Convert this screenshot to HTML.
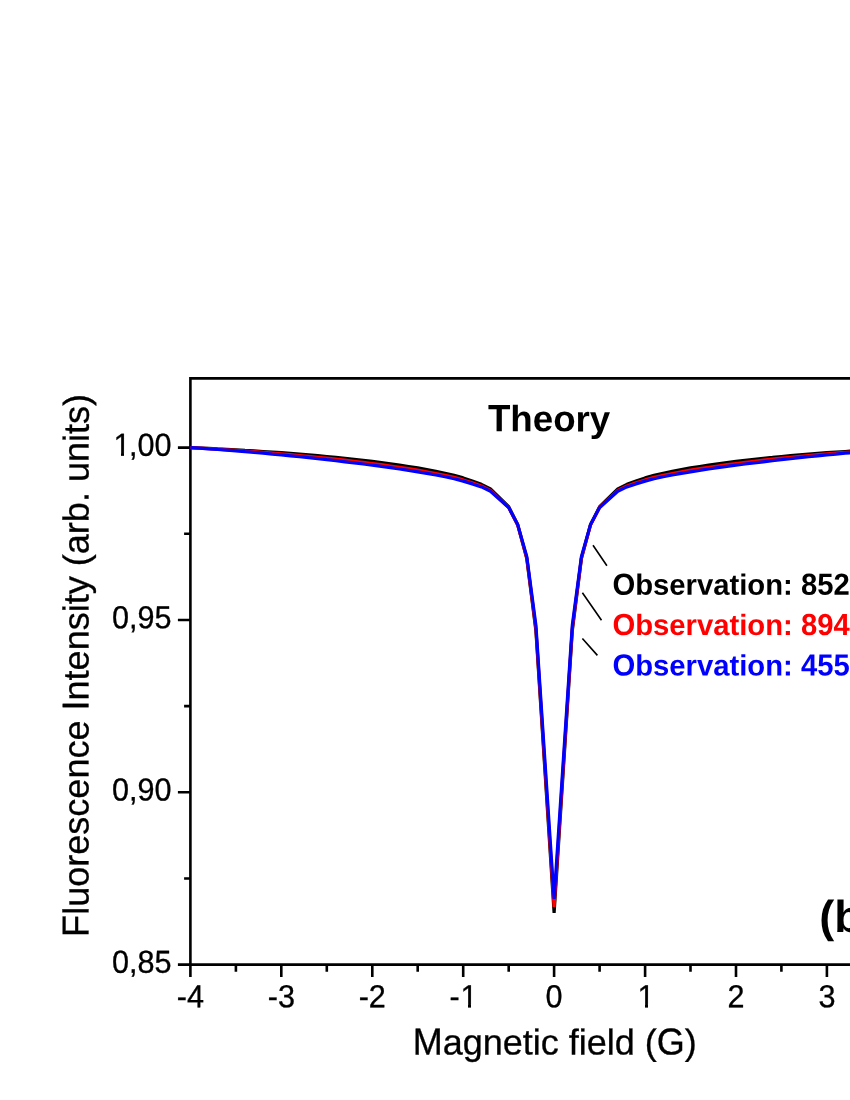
<!DOCTYPE html>
<html><head><meta charset="utf-8"><title>Chart</title>
<style>
html,body{margin:0;padding:0;background:#fff;}
body{width:850px;height:1100px;overflow:hidden;}
svg{display:block;will-change:transform;text-rendering:geometricPrecision;font-family:"Liberation Sans",sans-serif;}
</style></head><body>
<svg width="850" height="1100" viewBox="0 0 850 1100">
<rect width="850" height="1100" fill="#fff" stroke="none"/>
<path d="M190.4,964.6 V378.4 H860" fill="none" stroke="#000" stroke-width="2.6" stroke-linejoin="miter"/>
<path d="M189.1,964.6 H860" fill="none" stroke="#000" stroke-width="2.6"/>
<path d="M190.4,964.6 v12.5 M235.9,964.6 v7.2 M281.3,964.6 v12.5 M326.8,964.6 v7.2 M372.3,964.6 v12.5 M417.7,964.6 v7.2 M463.2,964.6 v12.5 M508.7,964.6 v7.2 M554.1,964.6 v12.5 M599.6,964.6 v7.2 M645.1,964.6 v12.5 M690.5,964.6 v7.2 M736.0,964.6 v12.5 M781.4,964.6 v7.2 M826.9,964.6 v12.5 M872.4,964.6 v7.2 M917.8,964.6 v12.5 M190.4,447.6 h-12.5 M190.4,533.8 h-6.3 M190.4,620.0 h-12.5 M190.4,706.1 h-6.3 M190.4,792.3 h-12.5 M190.4,878.5 h-6.3 M190.4,964.6 h-12.5" fill="none" stroke="#000" stroke-width="2.6"/>
<polyline points="190.4,447.6 199.5,448.0 208.6,448.4 217.7,448.9 226.8,449.3 235.9,449.8 245.0,450.4 254.1,450.9 263.1,451.5 272.2,452.1 281.3,452.7 290.4,453.4 299.5,454.1 308.6,454.9 317.7,455.7 326.8,456.5 335.9,457.4 345.0,458.3 354.1,459.3 363.2,460.3 372.3,461.4 381.4,462.6 390.4,463.8 399.5,465.1 408.6,466.5 417.7,467.9 426.8,469.5 435.9,471.3 445.0,473.2 454.1,475.4 463.2,477.9 472.3,481.0 481.4,484.3 490.5,489.0 508.7,506.7 517.7,524.7 526.8,558.7 535.9,630.7 554.1,912.8 572.3,630.7 581.4,558.7 590.5,524.7 599.6,506.7 617.8,489.0 626.9,484.3 636.0,481.0 645.1,477.9 654.1,475.4 663.2,473.2 672.3,471.3 681.4,469.5 690.5,467.9 699.6,466.5 708.7,465.1 717.8,463.8 726.9,462.6 736.0,461.4 745.1,460.3 754.2,459.3 763.3,458.3 772.4,457.4 781.4,456.5 790.5,455.7 799.6,454.9 808.7,454.1 817.8,453.4 826.9,452.7 836.0,452.1 845.1,451.5 854.2,450.9 863.3,450.4 872.4,449.8 881.5,449.3 890.6,448.9 899.7,448.4 908.7,448.0 917.8,447.6" fill="none" stroke="#000" stroke-width="3.2" stroke-linejoin="bevel"/>
<polyline points="190.4,447.6 199.5,448.1 208.6,448.6 217.7,449.2 226.8,449.8 235.9,450.4 245.0,451.0 254.1,451.7 263.1,452.4 272.2,453.1 281.3,453.9 290.4,454.7 299.5,455.5 308.6,456.4 317.7,457.3 326.8,458.2 335.9,459.2 345.0,460.2 354.1,461.3 363.2,462.4 372.3,463.5 381.4,464.7 390.4,466.0 399.5,467.3 408.6,468.7 417.7,470.2 426.8,471.8 435.9,473.5 445.0,475.3 454.1,477.4 463.2,479.9 472.3,482.8 481.4,485.9 490.5,490.4 508.7,507.5 517.7,525.1 526.8,558.1 535.9,628.5 554.1,906.8 572.3,628.5 581.4,558.1 590.5,525.1 599.6,507.5 617.8,490.4 626.9,485.9 636.0,482.8 645.1,479.9 654.1,477.4 663.2,475.3 672.3,473.5 681.4,471.8 690.5,470.2 699.6,468.7 708.7,467.3 717.8,466.0 726.9,464.7 736.0,463.5 745.1,462.4 754.2,461.3 763.3,460.2 772.4,459.2 781.4,458.2 790.5,457.3 799.6,456.4 808.7,455.5 817.8,454.7 826.9,453.9 836.0,453.1 845.1,452.4 854.2,451.7 863.3,451.0 872.4,450.4 881.5,449.8 890.6,449.2 899.7,448.6 908.7,448.1 917.8,447.6" fill="none" stroke="#f00" stroke-width="3.2" stroke-linejoin="bevel"/>
<polyline points="190.4,447.6 199.5,448.2 208.6,448.9 217.7,449.5 226.8,450.2 235.9,450.9 245.0,451.7 254.1,452.4 263.1,453.2 272.2,454.1 281.3,454.9 290.4,455.8 299.5,456.7 308.6,457.7 317.7,458.6 326.8,459.7 335.9,460.7 345.0,461.8 354.1,462.9 363.2,464.0 372.3,465.2 381.4,466.4 390.4,467.7 399.5,469.0 408.6,470.4 417.7,471.8 426.8,473.4 435.9,475.0 445.0,476.8 454.1,478.8 463.2,481.1 472.3,483.9 481.4,486.9 490.5,491.2 508.7,507.6 517.7,524.6 526.8,556.6 535.9,625.1 554.1,898.9 572.3,625.1 581.4,556.6 590.5,524.6 599.6,507.6 617.8,491.2 626.9,486.9 636.0,483.9 645.1,481.1 654.1,478.8 663.2,476.8 672.3,475.0 681.4,473.4 690.5,471.8 699.6,470.4 708.7,469.0 717.8,467.7 726.9,466.4 736.0,465.2 745.1,464.0 754.2,462.9 763.3,461.8 772.4,460.7 781.4,459.7 790.5,458.6 799.6,457.7 808.7,456.7 817.8,455.8 826.9,454.9 836.0,454.1 845.1,453.2 854.2,452.4 863.3,451.7 872.4,450.9 881.5,450.2 890.6,449.5 899.7,448.9 908.7,448.2 917.8,447.6" fill="none" stroke="#00f" stroke-width="3.2" stroke-linejoin="bevel"/>
<path d="M593,545.2 L606.9,565.7 M582.4,592.7 L601.5,620.2 M582.4,638.5 L597.4,655.4" stroke="#000" stroke-width="1.6" fill="none"/>
<g stroke="#000" stroke-width="0.3">
<text transform="translate(112.04,455.80) rotate(0.03) scale(1,1.04)" x="1.41 17.02 25.52 42.54" font-size="30.6">1,00</text><rect x="113.00" y="453" width="8" height="4" fill="#fff" stroke="none"/><rect x="124.00" y="453" width="7" height="4" fill="#fff" stroke="none"/>
<text transform="translate(112.04,628.15) rotate(0.03) scale(1,1.04)" x="0.00 17.02 25.52 42.54" font-size="30.6">0,95</text>
<text transform="translate(112.04,800.50) rotate(0.03) scale(1,1.04)" x="0.00 17.02 25.52 42.54" font-size="30.6">0,90</text>
<text transform="translate(112.04,972.85) rotate(0.03) scale(1,1.04)" x="0.00 17.02 25.52 42.54" font-size="30.6">0,85</text>
<text transform="translate(176.80,1007.30) rotate(0.03) scale(1,1.04)" x="0.00 10.19" font-size="30.6">-4</text>
<text transform="translate(267.73,1007.30) rotate(0.03) scale(1,1.04)" x="0.00 10.19" font-size="30.6">-3</text>
<text transform="translate(358.66,1007.30) rotate(0.03) scale(1,1.04)" x="0.00 10.19" font-size="30.6">-2</text>
<text transform="translate(449.59,1007.30) rotate(0.03) scale(1,1.04)" x="0.00 10.87" font-size="30.6">-1</text><rect x="460.00" y="1004" width="8" height="5" fill="#fff" stroke="none"/><rect x="471.00" y="1004" width="7" height="5" fill="#fff" stroke="none"/>
<text transform="translate(545.61,1007.30) rotate(0.03) scale(1,1.04)" x="0.00" font-size="30.6">0</text>
<text transform="translate(636.54,1007.30) rotate(0.03) scale(1,1.04)" x="0.91" font-size="30.6">1</text><rect x="637.00" y="1004" width="8" height="5" fill="#fff" stroke="none"/><rect x="648.00" y="1004" width="7" height="5" fill="#fff" stroke="none"/>
<text transform="translate(727.47,1007.30) rotate(0.03) scale(1,1.04)" x="0.00" font-size="30.6">2</text>
<text transform="translate(818.40,1007.30) rotate(0.03) scale(1,1.04)" x="0.00" font-size="30.6">3</text>
<text transform="translate(412.65,1054.5) rotate(0.03) scale(1,1.04)" font-size="36">M</text><text transform="translate(442.64,1054.5) rotate(0.03)" font-size="36">agnetic field (</text><text transform="translate(656.76,1054.5) rotate(0.03) scale(1,1.04)" font-size="36">G</text><text transform="translate(684.76,1054.5) rotate(0.03)" font-size="36">)</text>
<g transform="translate(88.5,665.4) rotate(-90)"><text transform="translate(-271.49,0) rotate(0.03) scale(1,1.04)" font-size="36.05">F</text><text transform="translate(-249.47,0) rotate(0.03)" font-size="36.05">luorescence</text><text transform="translate(-45.07,0) rotate(0.03) scale(1,1.04)" font-size="36.05">I</text><text transform="translate(-35.06,0) rotate(0.03)" font-size="36.05">ntensity (arb. units)</text></g>
</g>
<text transform="translate(487.90,431.35) rotate(0.03) scale(1,1.04)" font-size="36.7" font-weight="bold">T</text><text transform="translate(510.32,431.35) rotate(0.03)" font-size="36.7" font-weight="bold">heory</text>
<text transform="translate(612.40,594.65) rotate(0.03) scale(1,1.04)" font-size="29.25" font-weight="bold" fill="#000">O</text><text transform="translate(635.15,594.65) rotate(0.03)" font-size="29.25" font-weight="bold" fill="#000">bservation:</text><text transform="translate(800.94,594.65) rotate(0.03) scale(1,1.04)" font-size="29.25" font-weight="bold" fill="#000">852</text><text transform="translate(857.87,594.65) rotate(0.03)" font-size="29.25" font-weight="bold" fill="#000">nm</text>
<text transform="translate(612.40,634.9) rotate(0.03) scale(1,1.04)" font-size="29.25" font-weight="bold" fill="#f00">O</text><text transform="translate(635.15,634.9) rotate(0.03)" font-size="29.25" font-weight="bold" fill="#f00">bservation:</text><text transform="translate(800.94,634.9) rotate(0.03) scale(1,1.04)" font-size="29.25" font-weight="bold" fill="#f00">894</text><text transform="translate(857.87,634.9) rotate(0.03)" font-size="29.25" font-weight="bold" fill="#f00">nm</text>
<text transform="translate(612.40,675.5) rotate(0.03) scale(1,1.04)" font-size="29.25" font-weight="bold" fill="#00f">O</text><text transform="translate(635.15,675.5) rotate(0.03)" font-size="29.25" font-weight="bold" fill="#00f">bservation:</text><text transform="translate(800.94,675.5) rotate(0.03) scale(1,1.04)" font-size="29.25" font-weight="bold" fill="#00f">455</text><text transform="translate(857.87,675.5) rotate(0.03)" font-size="29.25" font-weight="bold" fill="#00f">nm</text>
<text transform="translate(819.30,932) rotate(0.03)" font-size="45" font-weight="bold">(b)</text>
</svg>
</body></html>
